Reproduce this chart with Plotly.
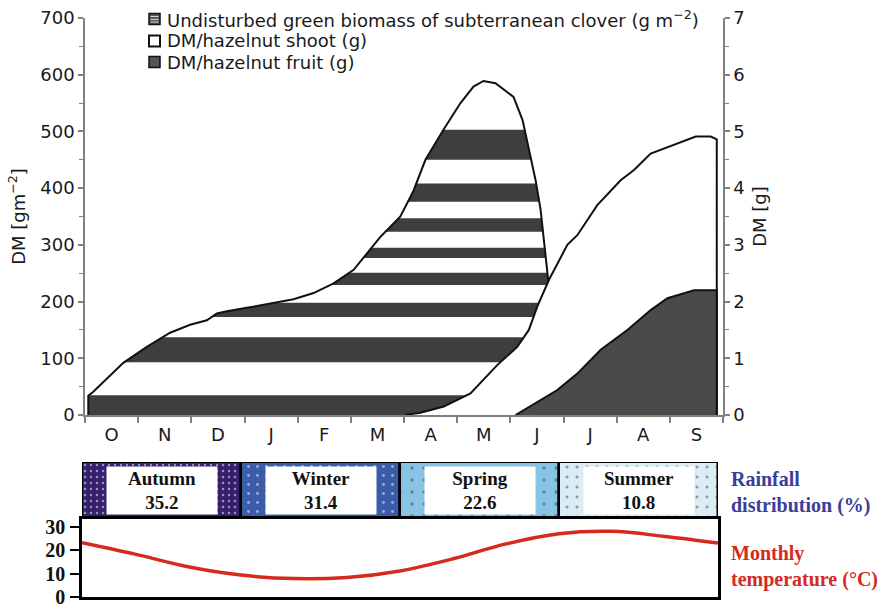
import plotly.graph_objects as go

W, H = 888, 605

# ---------------- data ----------------
months = ["O", "N", "D", "J", "F", "M", "A", "M", "J", "J", "A", "S"]

# undisturbed green biomass of subterranean clover (g m-2), x in months from 1 Oct
clover_x = [0.062, 0.062, 0.156, 0.721, 1.162, 1.601, 1.977, 2.292, 2.480, 2.669, 3.045,
            3.422, 3.923, 4.299, 4.676, 5.053, 5.305, 5.556, 5.744, 5.932, 6.177, 6.403,
            6.742, 7.062, 7.307, 7.495, 7.721, 8.060, 8.230, 8.343, 8.475, 8.569, 8.663,
            8.719, 8.795, 8.870]
clover_y = [0, 34, 41, 92, 120, 145, 159, 167, 179, 183, 189,
            195, 204, 215, 232, 256, 285, 314, 332, 350, 395, 450,
            503, 550, 579, 589, 585, 561, 520, 473, 414, 362, 279,
            232, 150, 0]

# DM / hazelnut shoot (g)
shoot_x = [6.026, 6.309, 6.748, 7.250, 7.753, 8.130, 8.348, 8.506, 8.725, 9.072, 9.260,
           9.636, 10.075, 10.326, 10.640, 11.079, 11.488, 11.770, 11.883, 11.883]
shoot_y = [0, 0.04, 0.15, 0.38, 0.88, 1.20, 1.50, 1.91, 2.38, 3.00, 3.17,
           3.70, 4.14, 4.32, 4.61, 4.76, 4.91, 4.91, 4.86, 0]

# DM / hazelnut fruit (g)
fruit_x = [8.098, 8.569, 8.883, 9.260, 9.699, 10.201, 10.640, 10.955, 11.456, 11.883, 11.883]
fruit_y = [0, 0.26, 0.44, 0.73, 1.15, 1.50, 1.85, 2.06, 2.20, 2.20, 0]

# horizontal dark stripes of the clover area (g m-2)
band_lo = [0, 93, 173, 229, 277, 323, 376, 450]
band_hi = [35, 137, 198, 251, 295, 347, 408, 503]

seasons = ["Autumn", "Winter", "Spring", "Summer"]
rainfall_pct = [35.2, 31.4, 22.6, 10.8]
season_colors = ["#36206e", "#3a5ca9", "#86c3e4", "#dcecf4"]

temp_x = list(range(13))
temp_y = [23.3, 18.4, 13.0, 9.4, 7.9, 8.4, 11.2, 16.4, 22.8, 27.2, 28.2, 26.0, 23.2]

legend_labels = ["Undisturbed green biomass of subterranean clover (g m<sup>\u22122</sup>)",
                 "DM/hazelnut shoot (g)",
                 "DM/hazelnut fruit (g)"]

# ---------------- helpers ----------------
def X(px):
    return px / W


def Y(py):
    return 1 - py / H


def band_polygon(xs, ys, lo, hi):
    px, py = [], []
    for i in range(len(xs)):
        if i > 0:
            x0, y0, x1, y1 = xs[i - 1], ys[i - 1], xs[i], ys[i]
            cuts = []
            for lev in (lo, hi):
                if (y0 - lev) * (y1 - lev) < 0:
                    t = (lev - y0) / (y1 - y0)
                    cuts.append((t, x0 + t * (x1 - x0), lev))
            for t, cx, cy in sorted(cuts):
                px.append(cx)
                py.append(cy)
        px.append(xs[i])
        py.append(min(max(ys[i], lo), hi))
    return px + px[::-1], py + [lo] * len(px)


SANS = "DejaVu Sans"
SERIF = "Liberation Serif"
DARK = "#3e3e3e"
AX = "#808080"

fig = go.Figure()

# clover stripes
for lo, hi in zip(band_lo, band_hi):
    bx, by = band_polygon(clover_x, clover_y, lo, hi)
    fig.add_trace(go.Scatter(x=bx, y=by, fill="toself", fillcolor=DARK, mode="lines",
                             line=dict(width=0), hoverinfo="skip", showlegend=False,
                             xaxis="x", yaxis="y"))
# clover outline
fig.add_trace(go.Scatter(x=clover_x, y=clover_y, mode="lines",
                         line=dict(color="#111111", width=2), showlegend=False,
                         xaxis="x", yaxis="y"))
# shoot
fig.add_trace(go.Scatter(x=shoot_x, y=shoot_y, mode="lines", fill="tozeroy",
                         fillcolor="white", line=dict(color="#111111", width=2),
                         showlegend=False, xaxis="x", yaxis="y2"))
# fruit
fig.add_trace(go.Scatter(x=fruit_x, y=fruit_y, mode="lines", fill="tozeroy",
                         fillcolor="#4a4a4a", line=dict(color="#111111", width=2),
                         showlegend=False, xaxis="x", yaxis="y2"))

# rainfall boxes
fig.add_trace(go.Bar(x=[i + 0.5 for i in range(len(seasons))], y=[1] * len(seasons), width=1,
                     xaxis="x3", yaxis="y3", cliponaxis=False, showlegend=False,
                     marker=dict(color=season_colors,
                                 line=dict(color="black", width=2.5),
                                 pattern=dict(shape=".", fgcolor="white",
                                              size=[6, 9, 12, 10],
                                              solidity=[0.14, 0.08, 0.06, 0.07],
                                              fillmode="overlay"))))

# temperature
fig.add_trace(go.Scatter(x=temp_x, y=temp_y, mode="lines", xaxis="x4", yaxis="y4",
                         line=dict(color="#d62a1e", width=3.5, shape="spline", smoothing=1),
                         showlegend=False))

annotations = []
for i, (s, v) in enumerate(zip(seasons, rainfall_pct)):
    annotations.append(dict(x=i + 0.5, y=0.5, xref="x3", yref="y3", showarrow=False,
                            text=f"<b>{s}</b><br><b>{v}</b>", bgcolor="white",
                            width=108, height=45, borderpad=1,
                            font=dict(family=SERIF, size=19, color="#111111")))

annotations.append(dict(x=X(729), y=Y(492), xref="paper", yref="paper", xanchor="left",
                        yanchor="middle", showarrow=False, align="left",
                        text="<b>Rainfall<br>distribution (%)</b>",
                        font=dict(family=SERIF, size=20, color="#3b3d9c")))
annotations.append(dict(x=X(729), y=Y(566), xref="paper", yref="paper", xanchor="left",
                        yanchor="middle", showarrow=False, align="left",
                        text="<b>Monthly<br>temperature (\u00b0C)</b>",
                        font=dict(family=SERIF, size=20, color="#d42a20")))

row_y = [19, 41, 62]
for lab, ry in zip(legend_labels, row_y):
    annotations.append(dict(x=X(165), y=Y(ry), xref="paper", yref="paper", xanchor="left",
                            yanchor="middle", showarrow=False, text=lab,
                            font=dict(family=SANS, size=18, color="#1a1a1a")))

shapes = []
sx0, sx1 = X(149), X(160)
for k, ry in enumerate(row_y):
    fill = ["#5a5a5a", "white", "#555555"][k]
    shapes.append(dict(type="rect", xref="paper", yref="paper", x0=sx0, x1=sx1,
                       y0=Y(ry + 5.5), y1=Y(ry - 5.5), fillcolor=fill,
                       line=dict(color="#111111", width=1.5 if k != 1 else 2)))
for dy in (-2.5, 0.5, 3.0):
    shapes.append(dict(type="line", xref="paper", yref="paper", x0=X(150.5), x1=X(158.5),
                       y0=Y(row_y[0] + dy), y1=Y(row_y[0] + dy),
                       line=dict(color="#cfcfcf", width=1)))

fig.update_layout(
    template="none",
    width=W, height=H,
    margin=dict(l=0, r=0, t=0, b=0),
    paper_bgcolor="white", plot_bgcolor="rgba(0,0,0,0)",
    font=dict(family=SANS, size=18, color="#1a1a1a"),
    showlegend=False,
    bargap=0,
    xaxis=dict(domain=[X(85), X(723)], range=[0, 12], anchor="y",
               tickmode="array", tickvals=[i + 0.5 for i in range(12)], ticktext=months,
               ticks="outside", ticklen=3, tickcolor="rgba(0,0,0,0)",
               minor=dict(tickmode="linear", tick0=0, dtick=1, ticks="outside",
                          ticklen=6, tickcolor=AX, tickwidth=1.5),
               showline=True, linecolor=AX, linewidth=1.5, showgrid=False,
               zeroline=False, automargin=False, tickfont=dict(size=18)),
    yaxis=dict(domain=[Y(415), Y(18)], range=[0, 700], anchor="x",
               tickmode="linear", tick0=0, dtick=100, ticks="outside", ticklen=5,
               tickcolor=AX, tickwidth=1.5,
               minor=dict(tickmode="linear", tick0=0, dtick=50, ticks="outside",
                          ticklen=4, tickcolor=AX, tickwidth=1.2),
               showline=True, linecolor=AX, linewidth=1.5, showgrid=False,
               zeroline=False, automargin=False,
               title=dict(text="DM [gm<sup>\u22122</sup>]", standoff=10,
                          font=dict(size=18))),
    yaxis2=dict(overlaying="y", side="right", anchor="x", range=[0, 7],
                tickmode="linear", tick0=0, dtick=1, ticks="outside", ticklen=5,
                tickcolor=AX, tickwidth=1.5,
                minor=dict(tickmode="linear", tick0=0, dtick=0.5, ticks="outside",
                           ticklen=4, tickcolor=AX, tickwidth=1.2),
                showline=True, linecolor=AX, linewidth=1.5, showgrid=False,
                zeroline=False, automargin=False,
                title=dict(text="DM [g]", standoff=10, font=dict(size=18))),
    xaxis3=dict(domain=[X(82), X(718)], range=[0, 4], anchor="y3", visible=False,
                fixedrange=True),
    yaxis3=dict(domain=[Y(519), Y(462)], range=[0, 1], anchor="x3", visible=False,
                fixedrange=True),
    xaxis4=dict(domain=[X(82), X(718)], range=[0, 12], anchor="y4", showline=True,
                mirror=True, linecolor="black", linewidth=2.5, showticklabels=False,
                ticks="", showgrid=False, zeroline=False, automargin=False),
    yaxis4=dict(domain=[Y(597), Y(519)], range=[0, 33.5], anchor="x4", showline=True,
                mirror=True, linecolor="black", linewidth=2.5,
                tickmode="array", tickvals=[0, 10, 20, 30],
                ticktext=["<b>0</b>", "<b>10</b>", "<b>20</b>", "<b>30</b>"],
                ticks="outside", ticklen=9, tickwidth=2, tickcolor="black",
                ticklabelstandoff=1, ticklabeloverflow="allow",
                tickfont=dict(family=SERIF, size=20, color="#111111"),
                showgrid=False, zeroline=False, automargin=False),
    annotations=annotations,
    shapes=shapes,
)

fig.write_html("out.html", config={"displayModeBar": False},
               post_script="document.body.style.margin='0';")
